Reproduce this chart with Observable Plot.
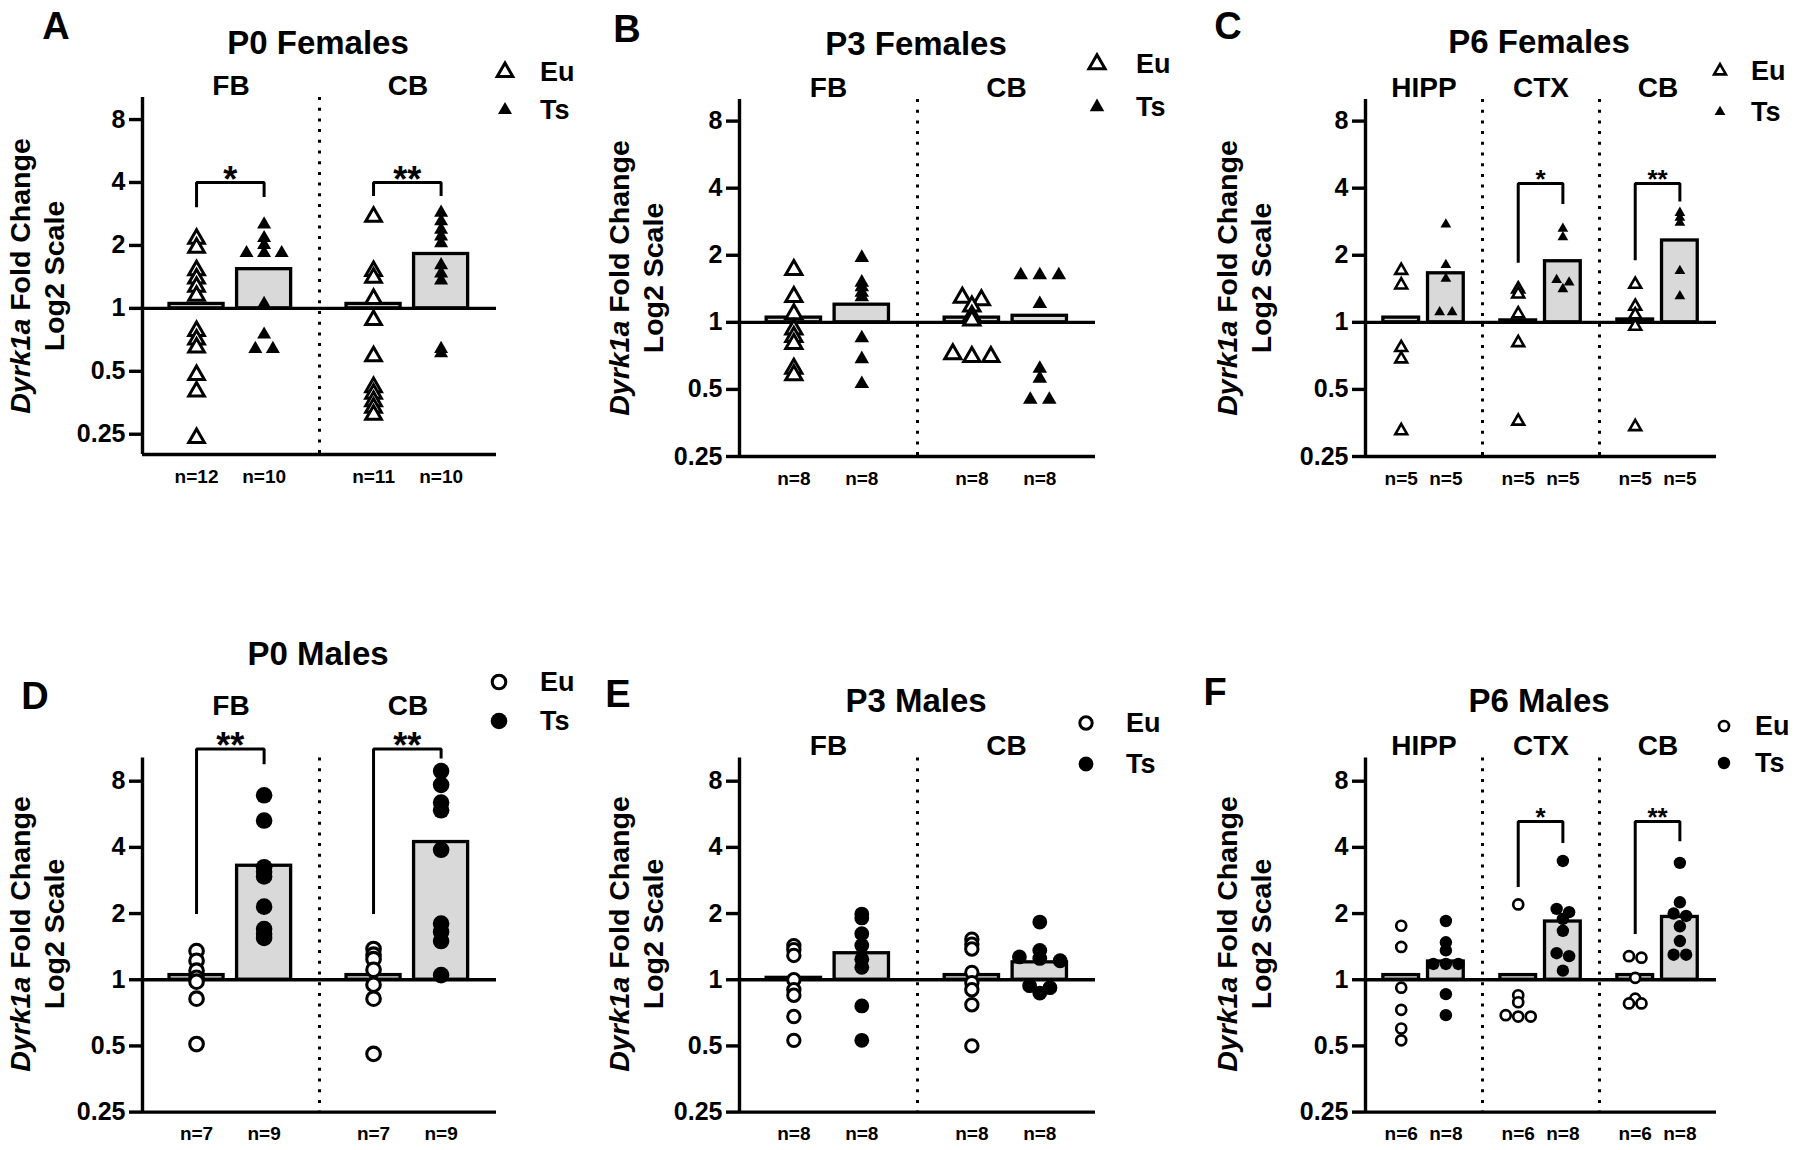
<!DOCTYPE html>
<html>
<head>
<meta charset="utf-8">
<script src="https://cdn.jsdelivr.net/npm/d3@7"></script>
<script src="https://cdn.jsdelivr.net/npm/@observablehq/plot@0.6"></script>
<style>
html, body { margin: 0; padding: 0; background: #fff; }
#fig { position: relative; width: 1800px; height: 1150px; overflow: hidden; background: #fff;
  font-family: "Liberation Sans", Arial, sans-serif; font-weight: bold; color: #000; }
.abs { position: absolute; white-space: nowrap; line-height: 1; }
.ctr { transform: translate(-50%, -50%); }
.ytitle { position: absolute; white-space: nowrap; text-align: center; line-height: 34px; font-size: 28.5px;
  transform: translate(-50%, -50%) rotate(-90deg); }
</style>
</head>
<body>
<div id="fig"></div>
<script>
// ---------------- DATA ----------------
const genotypes = ["Eu", "Ts"];
const yTicks = [0.25, 0.5, 1, 2, 4, 8];

// A — P0 Females
const p0fRegions = ["FB", "CB"];
const p0f_FB_Eu = [2.15, 1.95, 1.52, 1.39, 1.27, 1.15, 0.78, 0.71, 0.65, 0.48, 0.40, 0.24];
const p0f_FB_Ts = [2.52, 2.17, 2.01, 1.84, 1.84, 1.84, 1.05, 0.75, 0.64, 0.64];
const p0f_CB_Eu = [2.74, 1.51, 1.40, 1.11, 0.88, 0.59, 0.42, 0.39, 0.36, 0.335, 0.31];
const p0f_CB_Ts = [2.87, 2.61, 2.38, 2.21, 2.05, 1.61, 1.47, 1.36, 0.64, 0.61];
const p0fMeans = [1.05, 1.54, 1.05, 1.82];           // FB Eu, FB Ts, CB Eu, CB Ts
const p0fSigRegion = ["FB", "CB"];
const p0fSigLabel = ["*", "**"];
const p0fSigTop = [4.0, 4.0];
const p0fSigEu = [3.1, 3.5];
const p0fSigTs = [3.47, 3.5];

// B — P3 Females
const p3fRegions = ["FB", "CB"];
const p3f_FB_Eu = [1.72, 1.30, 1.09, 0.93, 0.86, 0.80, 0.62, 0.58];
const p3f_FB_Ts = [1.95, 1.51, 1.44, 1.36, 1.30, 0.85, 0.685, 0.53];
const p3f_CB_Eu = [1.29, 1.26, 1.18, 1.07, 1.02, 0.72, 0.70, 0.70];
const p3f_CB_Ts = [1.63, 1.63, 1.63, 1.21, 0.62, 0.56, 0.45, 0.45];
const p3fMeans = [1.05, 1.20, 1.05, 1.07];

// C — P6 Females
const p6fRegions = ["HIPP", "CTX", "CB"];
const p6f_HIPP_Eu = [1.71, 1.47, 0.77, 0.685, 0.326];
const p6f_HIPP_Ts = [2.75, 1.81, 1.57, 1.11, 1.11];
const p6f_CTX_Eu = [1.41, 1.34, 1.09, 0.81, 0.36];
const p6f_CTX_Ts = [2.63, 2.41, 1.55, 1.51, 1.41];
const p6f_CB_Eu = [1.48, 1.18, 1.08, 0.96, 0.34];
const p6f_CB_Ts = [3.1, 2.95, 2.8, 1.70, 1.31];
const p6fMeans = [1.05, 1.66, 1.02, 1.88, 1.03, 2.33];
const p6fSigRegion = ["CTX", "CB"];
const p6fSigLabel = ["*", "**"];
const p6fSigTop = [4.2, 4.2];
const p6fSigEu = [1.88, 1.93];
const p6fSigTs = [3.45, 3.54];

// D — P0 Males
const p0mRegions = ["FB", "CB"];
const p0m_FB_Eu = [1.35, 1.22, 1.10, 1.02, 0.98, 0.82, 0.51];
const p0m_FB_Ts = [6.9, 5.3, 3.25, 3.1, 2.95, 2.15, 1.70, 1.62, 1.55];
const p0m_CB_Eu = [1.38, 1.30, 1.24, 1.11, 0.95, 0.82, 0.46];
const p0m_CB_Ts = [8.9, 7.7, 6.4, 5.9, 3.9, 1.8, 1.65, 1.5, 1.05];
const p0mMeans = [1.05, 3.30, 1.05, 4.23];
const p0mSigRegion = ["FB", "CB"];
const p0mSigLabel = ["**", "**"];
const p0mSigTop = [11.2, 11.2];
const p0mSigEu = [2.02, 2.02];
const p0mSigTs = [9.7, 10.3];

// E — P3 Males
const p3mRegions = ["FB", "CB"];
const p3m_FB_Eu = [1.43, 1.37, 1.29, 1.0, 0.90, 0.85, 0.68, 0.53];
const p3m_FB_Ts = [1.99, 1.91, 1.62, 1.43, 1.24, 1.14, 0.76, 0.53];
const p3m_CB_Eu = [1.53, 1.45, 1.38, 1.08, 0.97, 0.90, 0.77, 0.50];
const p3m_CB_Ts = [1.83, 1.36, 1.27, 1.25, 1.22, 0.94, 0.92, 0.87];
const p3mMeans = [1.02, 1.32, 1.05, 1.20];

// F — P6 Males
const p6mRegions = ["HIPP", "CTX", "CB"];
const p6m_HIPP_Eu = [1.76, 1.41, 0.92, 0.73, 0.60, 0.53];
const p6m_HIPP_Ts = [1.85, 1.48, 1.36, 1.18, 1.18, 1.18, 0.86, 0.69];
const p6m_CTX_Eu = [2.2, 0.85, 0.79, 0.69, 0.68, 0.68];
const p6m_CTX_Ts = [3.47, 2.10, 2.03, 1.89, 1.67, 1.32, 1.28, 1.10];
const p6m_CB_Eu = [1.28, 1.26, 1.02, 0.82, 0.78, 0.78];
const p6m_CB_Ts = [3.4, 2.25, 2.0, 1.95, 1.75, 1.5, 1.3, 1.3];
const p6mMeans = [1.05, 1.21, 1.05, 1.84, 1.05, 1.93];
const p6mSigRegion = ["CTX", "CB"];
const p6mSigLabel = ["*", "**"];
const p6mSigTop = [5.25, 5.25];
const p6mSigEu = [2.68, 1.64];
const p6mSigTs = [4.25, 4.33];

// ---------------- PANEL SETUP ----------------
const X_DOMAIN = [-0.8, 1.82];
const ROW_TOL = 0.05;   // log2 distance under which points share a row
const FONT = "'Liberation Sans', Arial, sans-serif";
const LINE_W = 3.4;

function sigList(regions, labels, tops, eus, tss) {
  return regions.map((r, i) => ({region: r, label: labels[i], top: tops[i], eu: eus[i], ts: tss[i]}));
}

const panels = [
  {letter: "A", title: "P0 Females", regions: p0fRegions,
   groups: [[p0f_FB_Eu, p0f_FB_Ts], [p0f_CB_Eu, p0f_CB_Ts]], means: p0fMeans,
   sig: sigList(p0fSigRegion, p0fSigLabel, p0fSigTop, p0fSigEu, p0fSigTs),
   left: 0, top: 0, width: 600, height: 520, mL: 142, mR: 104, mT: 97, mB: 66, yDomain: [0.2, 10.2], fxPad: 3,
   titleXY: [318, 42], letterXY: [56, 26], ytXY: [37, 276], legX: 505, legY: [72, 110], legTextX: 540,
   symbol: "triangle", rOpen: 5.8, rFill: 5.2, sw: 3, spread: 0.26, starSize: 36, starDy: 9.5},
  {letter: "B", title: "P3 Females", regions: p3fRegions,
   groups: [[p3f_FB_Eu, p3f_FB_Ts], [p3f_CB_Eu, p3f_CB_Ts]], means: p3fMeans, sig: [],
   left: 600, top: 0, width: 600, height: 520, mL: 138.5, mR: 104, mT: 99, mB: 64, yDomain: [0.25, 10.0], fxPad: 3,
   titleXY: [916, 43], letterXY: [627, 29], ytXY: [636, 278], legX: 1097, legY: [64, 107], legTextX: 1136,
   symbol: "triangle", rOpen: 6.0, rFill: 5.4, sw: 3, spread: 0.28, starSize: 36, starDy: 9.5},
  {letter: "C", title: "P6 Females", regions: p6fRegions,
   groups: [[p6f_HIPP_Eu, p6f_HIPP_Ts], [p6f_CTX_Eu, p6f_CTX_Ts], [p6f_CB_Eu, p6f_CB_Ts]], means: p6fMeans,
   sig: sigList(p6fSigRegion, p6fSigLabel, p6fSigTop, p6fSigEu, p6fSigTs),
   left: 1200, top: 0, width: 600, height: 520, mL: 164, mR: 83, mT: 99, mB: 64, yDomain: [0.25, 10.0], fxPad: 3,
   titleXY: [1539, 41], letterXY: [1228, 26], ytXY: [1244, 278], legX: 1720, legY: [71, 112], legTextX: 1751,
   symbol: "triangle", rOpen: 4.4, rFill: 4.0, sw: 2.6, spread: 0.28, starSize: 26, starDy: 5},
  {letter: "D", title: "P0 Males", regions: p0mRegions,
   groups: [[p0m_FB_Eu, p0m_FB_Ts], [p0m_CB_Eu, p0m_CB_Ts]], means: p0mMeans,
   sig: sigList(p0mSigRegion, p0mSigLabel, p0mSigTop, p0mSigEu, p0mSigTs),
   left: 0, top: 620, width: 600, height: 530, mL: 142, mR: 104, mT: 137.5, mB: 38.4, yDomain: [0.25, 10.2], fxPad: 43,
   titleXY: [318, 653], letterXY: [35, 696], ytXY: [37, 934], legX: 499, legY: [682, 721], legTextX: 540,
   symbol: "circle", rOpen: 6.8, rFill: 8.3, sw: 3.1, spread: 0.26, starSize: 36, starDy: 8.5},
  {letter: "E", title: "P3 Males", regions: p3mRegions,
   groups: [[p3m_FB_Eu, p3m_FB_Ts], [p3m_CB_Eu, p3m_CB_Ts]], means: p3mMeans, sig: [],
   left: 600, top: 620, width: 600, height: 530, mL: 138.5, mR: 104, mT: 137.5, mB: 38.4, yDomain: [0.25, 10.2], fxPad: 3,
   titleXY: [916, 700], letterXY: [618, 694], ytXY: [635.5, 934], legX: 1086, legY: [723, 764], legTextX: 1126,
   symbol: "circle", rOpen: 6.2, rFill: 7.4, sw: 3.0, spread: 0.3, starSize: 36, starDy: 8.5},
  {letter: "F", title: "P6 Males", regions: p6mRegions,
   groups: [[p6m_HIPP_Eu, p6m_HIPP_Ts], [p6m_CTX_Eu, p6m_CTX_Ts], [p6m_CB_Eu, p6m_CB_Ts]], means: p6mMeans,
   sig: sigList(p6mSigRegion, p6mSigLabel, p6mSigTop, p6mSigEu, p6mSigTs),
   left: 1200, top: 620, width: 600, height: 530, mL: 164, mR: 83, mT: 137.5, mB: 38.4, yDomain: [0.25, 10.2], fxPad: 3,
   titleXY: [1539, 700], letterXY: [1215, 692], ytXY: [1244, 934], legX: 1724, legY: [726, 763], legTextX: 1755,
   symbol: "circle", rOpen: 5.0, rFill: 6.2, sw: 2.7, spread: 0.28, starSize: 26, starDy: 5}
];

const fig = document.getElementById("fig");

function addHtml(html, css, cls) {
  const d = document.createElement("div");
  d.className = cls;
  d.innerHTML = html;
  Object.assign(d.style, css);
  fig.appendChild(d);
  return d;
}

function jitterPoints(regions, groups, spread) {
  const out = [];
  regions.forEach((region, ri) => {
    genotypes.forEach((geno, gi) => {
      const vals = groups[ri][gi].slice().sort((a, b) => b - a);
      const rows = [];
      for (const v of vals) {
        const row = rows[rows.length - 1];
        if (row && Math.log2(row[row.length - 1] / v) < ROW_TOL) row.push(v);
        else rows.push([v]);
      }
      for (const row of rows) {
        row.forEach((v, i) => out.push({region, geno, gi, v, xj: gi + (i - (row.length - 1) / 2) * spread}));
      }
    });
  });
  return out;
}

function symbolSvg(kind, filled, r, sw) {
  const path = d3.symbol(kind === "triangle" ? d3.symbolTriangle : d3.symbolCircle, Math.PI * r * r)();
  return `<svg width="30" height="30" viewBox="-15 -15 30 30" style="display:block;overflow:visible">` +
    `<path d="${path}" fill="${filled ? "black" : "white"}" stroke="black" stroke-width="${filled ? 0 : sw}"/></svg>`;
}

for (const p of panels) {
  const pts = jitterPoints(p.regions, p.groups, p.spread);
  const bars = [];
  const nLabels = [];
  p.regions.forEach((region, ri) => genotypes.forEach((geno, gi) => {
    bars.push({region, geno, gi, mean: p.means[ri * 2 + gi]});
    nLabels.push({region, gi, label: "n=" + p.groups[ri][gi].length});
  }));
  const brackets = [];
  for (const s of p.sig) {
    brackets.push({region: s.region, x: 0, y: s.eu}, {region: s.region, x: 0, y: s.top},
                  {region: s.region, x: 1, y: s.top}, {region: s.region, x: 1, y: s.ts});
  }
  const dividers = p.regions.map((region, i) => ({region, first: i === 0}));

  const svg = Plot.plot({
    width: p.width, height: p.height,
    marginLeft: p.mL, marginRight: p.mR, marginTop: p.mT, marginBottom: p.mB,
    style: `font-family: ${FONT}; font-weight: bold; overflow: visible; background: transparent;`,
    x: {type: "linear", domain: X_DOMAIN, axis: null},
    y: {type: "log", base: 2, domain: p.yDomain},
    fx: {domain: p.regions, padding: 0},
    marks: [
      Plot.rect(bars, {fx: "region", x1: d => d.gi - 0.4, x2: d => d.gi + 0.4, y1: 1, y2: "mean",
        fill: "#d9d9d9", stroke: "black", strokeWidth: 3.3}),
      Plot.ruleY([1], {stroke: "black", strokeWidth: LINE_W}),
      Plot.ruleX(dividers.filter(d => !d.first), {fx: "region", x: X_DOMAIN[0], stroke: "black",
        strokeWidth: 3, strokeDasharray: "3,7.7"}),
      Plot.ruleX(dividers.filter(d => d.first), {fx: "region", x: X_DOMAIN[0], stroke: "black", strokeWidth: LINE_W}),
      Plot.ruleY([p.yDomain[0]], {stroke: "black", strokeWidth: LINE_W}),
      Plot.line(brackets, {fx: "region", x: "x", y: "y", z: "region", stroke: "black", strokeWidth: 3,
        strokeLinejoin: "miter", strokeLinecap: "square"}),
      Plot.text(p.sig, {fx: "region", x: 0.5, y: "top", text: "label", lineAnchor: "bottom", dy: p.starDy,
        fontSize: p.starSize, fontWeight: "bold"}),
      Plot.dot(pts.filter(d => d.geno === "Eu"), {fx: "region", x: "xj", y: "v", symbol: p.symbol, r: p.rOpen,
        fill: "white", stroke: "black", strokeWidth: p.sw}),
      Plot.dot(pts.filter(d => d.geno === "Ts"), {fx: "region", x: "xj", y: "v", symbol: p.symbol, r: p.rFill,
        fill: "black", stroke: "none"}),
      Plot.text(nLabels, {fx: "region", x: "gi", text: "label", frameAnchor: "bottom", dy: 22,
        lineAnchor: "middle", fontSize: 19, fontWeight: "bold"}),
      Plot.axisY({ticks: yTicks, tickFormat: d => String(d), tickSize: 13, tickPadding: 4, strokeWidth: LINE_W,
        fontSize: 25, fontWeight: "bold", label: null}),
      Plot.axisFx({anchor: "top", tickSize: 0, tickPadding: p.fxPad, fontSize: 28, fontWeight: "bold", label: null})
    ]
  });
  svg.style.position = "absolute";
  svg.style.left = p.left + "px";
  svg.style.top = p.top + "px";
  fig.appendChild(svg);

  // Panel letter, title, y title
  addHtml(p.letter, {left: p.letterXY[0] + "px", top: p.letterXY[1] + "px", fontSize: "38px"}, "abs ctr");
  addHtml(p.title, {left: p.titleXY[0] + "px", top: p.titleXY[1] + "px", fontSize: "33px"}, "abs ctr");
  addHtml("<i>Dyrk1a</i> Fold Change<br>Log2 Scale", {left: p.ytXY[0] + "px", top: p.ytXY[1] + "px"}, "ytitle");

  // Legend
  genotypes.forEach((g, i) => {
    const filled = g === "Ts";
    addHtml(symbolSvg(p.symbol, filled, filled ? p.rFill : p.rOpen, p.sw),
      {left: (p.legX - 15) + "px", top: (p.legY[i] - 15) + "px"}, "abs");
    addHtml(g, {left: p.legTextX + "px", top: p.legY[i] + "px", fontSize: "27px", transform: "translateY(-50%)"}, "abs");
  });
}
</script>
</body>
</html>
